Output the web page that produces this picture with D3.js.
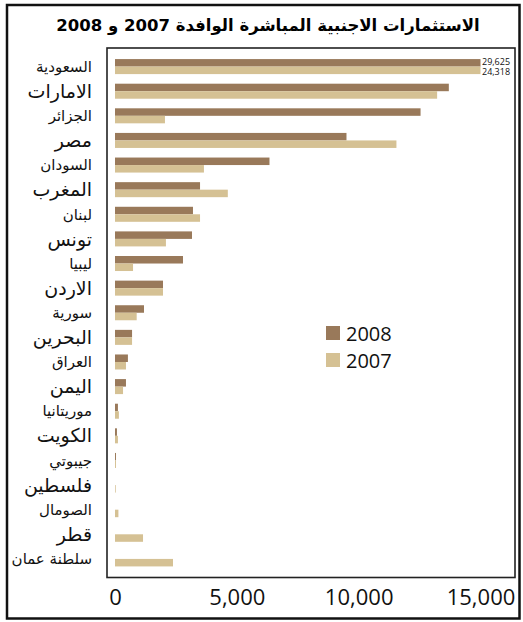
<!DOCTYPE html>
<html>
<head>
<meta charset="utf-8">
<script src="https://cdn.jsdelivr.net/npm/d3@7"></script>
<style>
  body { margin: 0; background: #fff; }
  svg { display: block; }
</style>
</head>
<body>
<div id="chart"></div>
<script>
// الاستثمارات الاجنبية المباشرة الوافدة (مليون دولار)
var categories = ['السعودية', 'الامارات', 'الجزائر', 'مصر', 'السودان', 'المغرب', 'لبنان',
  'تونس', 'ليبيا', 'الاردن', 'سورية', 'البحرين', 'العراق', 'اليمن', 'موريتانيا',
  'الكويت', 'جيبوتي', 'فلسطين', 'الصومال', 'قطر', 'سلطنة عمان'];
var values2008 = [29625, 13700, 12540, 9500, 6340, 3490, 3200, 3160, 2790, 1970, 1190,
  700, 530, 450, 120, 80, 40, null, null, null, null];
var values2007 = [24318, 13220, 2050, 11550, 3650, 4630, 3490, 2090, 740, 1970, 890,
  700, 450, 330, 160, 120, 40, 30, 140, 1150, 2380];
var seriesNames = ['2008', '2007'];
var xTicks = [0, 5000, 10000, 15000];

var colors = { '2008': '#99795a', '2007': '#d5c194' };
var W = 523, H = 622;
var axisMax = 15000;

var svg = d3.select('#chart').append('svg').attr('width', W).attr('height', H);

// outer frame
svg.append('rect').attr('x', 7).attr('y', 5).attr('width', 512.5).attr('height', 613.5)
  .attr('fill', 'none').attr('stroke', '#111').attr('stroke-width', 2.5);

svg.append('text').attr('x', 268).attr('y', 31).attr('text-anchor', 'middle')
  .attr('font-family', 'DejaVu Sans').attr('font-weight', 'bold').attr('font-size', 16.5)
  .attr('direction', 'rtl')
  .text('الاستثمارات الاجنبية المباشرة الوافدة 2007 و 2008');

var plot = { left: 107, right: 515, top: 48, bottom: 577.5 };
svg.append('rect').attr('x', plot.left).attr('y', plot.top)
  .attr('width', plot.right - plot.left).attr('height', plot.bottom - plot.top)
  .attr('fill', 'none').attr('stroke', '#222').attr('stroke-width', 1.6);

var x = d3.scaleLinear().domain([0, axisMax]).range([115, 480.5]);
var y = d3.scaleBand().domain(categories).range([plot.top, plot.bottom])
  .paddingInner(0.39).paddingOuter(0.45);
var ySub = d3.scaleBand().domain(seriesNames).range([0, y.bandwidth()]);

var rows = categories.map(function(c, i) {
  return { name: c, v: { '2008': values2008[i], '2007': values2007[i] } };
});

var g = svg.append('g');
rows.forEach(function(r) {
  seriesNames.forEach(function(s, si) {
    var v = r.v[s];
    if (v == null) return;
    g.append('rect')
      .attr('x', x(0))
      .attr('y', y(r.name) + ySub(s))
      .attr('width', x(Math.min(v, axisMax)) - x(0))
      .attr('height', ySub.bandwidth())
      .attr('fill', colors[s]);
    if (v > axisMax) {
      // values beyond the axis are cut at its end and written beside the bar
      g.append('text').attr('x', x(axisMax) + 1.5)
        .attr('y', y(r.name) + ySub(s) + ySub.bandwidth() / 2 + (si ? 1.5 : -1.5))
        .attr('dy', '0.36em')
        .attr('font-family', 'Open Sans').attr('font-size', 9).attr('fill', '#111')
        .text(d3.format(',')(v));
    }
  });
});

// category labels (alternating sizes as in the original)
svg.append('g').selectAll('text').data(categories).enter().append('text')
  .attr('x', 92)
  .attr('y', function(d) { return y(d) + y.bandwidth() / 2; })
  .attr('dy', '0.35em')
  .attr('text-anchor', 'start')
  .attr('direction', 'rtl')
  .attr('font-family', 'DejaVu Sans')
  .attr('font-size', function(d, i) { return i % 2 ? 19 : 15; })
  .attr('fill', '#111')
  .text(function(d) { return d; });

// x axis labels
var xAxis = d3.axisBottom(x).tickValues(xTicks).tickFormat(d3.format(',')).tickSize(0).tickPadding(0);
var ax = svg.append('g').attr('transform', 'translate(0,589)').call(xAxis);
ax.select('.domain').remove();
ax.selectAll('text').attr('font-family', 'Open Sans').attr('font-size', 22)
  .attr('fill', '#111').attr('dy', '0.71em');

// legend
var leg = svg.append('g').attr('transform', 'translate(326,326)');
seriesNames.forEach(function(s, i) {
  leg.append('rect').attr('x', 0).attr('y', i * 27).attr('width', 14).attr('height', 14)
    .attr('fill', colors[s]);
  leg.append('text').attr('x', 20).attr('y', i * 27 + 14.5)
    .attr('font-family', 'Open Sans').attr('font-size', 20).attr('fill', '#111')
    .text(s);
});
</script>
</body>
</html>
